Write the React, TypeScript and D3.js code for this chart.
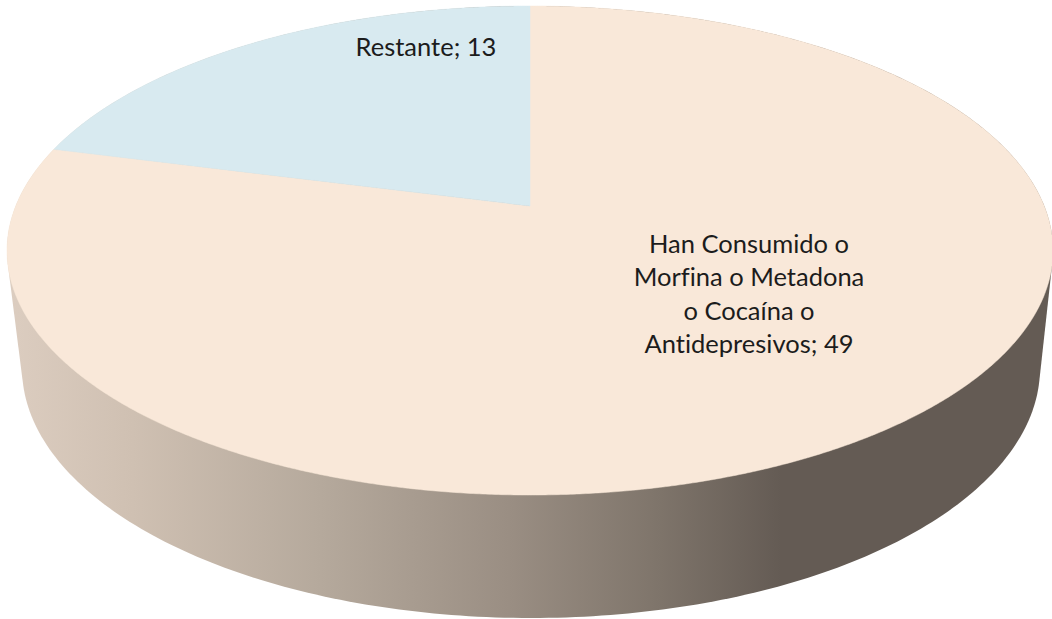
import React from 'react';
import * as d3 from 'd3';

const categories = ['Han Consumido o Morfina o Metadona o Cocaína o Antidepresivos', 'Restante'];
const values = [49, 13];
const sliceColors = ['#f9e8d9', '#d8eaf0'];
const mainLabelLines = ['Han Consumido o', 'Morfina o Metadona', 'o Cocaína o', 'Antidepresivos; 49'];
const smallLabel = 'Restante; 13';
const wallStops: [number, string][] = [
    [0, '#dccdc0'],
    [0.12, '#cfc0b2'],
    [0.3, '#b5a99c'],
    [0.48, '#9a8e83'],
    [0.62, '#7f756b'],
    [0.74, '#645b54'],
    [1, '#645b54'],
];

const width = 1052;
const height = 619;

// top face ellipse and the smaller base ellipse under it
const top = { cx: 530, cy: 250.5, rx: 523, ry: 244.5 };
const base = { cx: 531, cy: 368, rx: 509, ry: 250 };
// where the pie centre lands inside the ellipse, because of the perspective
const tilt = (206 - top.cy) / top.ry;

// maps a pie angle (clockwise from 12 o'clock) onto the tilted top face
function project(angle: number): [number, number] {
    const u = Math.sin(angle);
    const v = -Math.cos(angle);
    const d = 1 + tilt * v;
    return [
        top.cx + (top.rx * u * Math.sqrt(1 - tilt * tilt)) / d,
        top.cy + (top.ry * (v + tilt)) / d,
    ];
}

function ellipsePoints(e: typeof top): [number, number][] {
    return d3.range(0, 360).map((a) => {
        const t = (a * Math.PI) / 180;
        return [e.cx + e.rx * Math.cos(t), e.cy + e.ry * Math.sin(t)] as [number, number];
    });
}

const line = d3.line();

export default function App() {
    const slices = d3.pie<number>().sort(null)(values);
    const apex: [number, number] = [top.cx, top.cy + tilt * top.ry];

    const slicePaths = slices.map((s) => {
        const steps = Math.ceil((s.endAngle - s.startAngle) / 0.005);
        const arcScale = d3.scaleLinear().domain([0, steps]).range([s.startAngle, s.endAngle]);
        const rim = d3.range(steps + 1).map((i) => project(arcScale(i)));
        return line([apex, ...rim]) + 'Z';
    });

    const wall = d3.polygonHull([...ellipsePoints(top), ...ellipsePoints(base)]) as [number, number][];

    return (
        <svg
            width={width}
            height={height}
            style={{ position: 'absolute', left: 0, top: 0, display: 'block', fontVariantLigatures: 'none' }}
            fontFamily="Lato, sans-serif"
            fill="#1c1c1c"
        >
            <defs>
                <linearGradient id="wall" gradientUnits="userSpaceOnUse" x1={top.cx - top.rx} x2={top.cx + top.rx} y1={0} y2={0}>
                    {wallStops.map(([o, c]) => (
                        <stop key={o} offset={o} stopColor={c} />
                    ))}
                </linearGradient>
            </defs>
            <path d={line(wall) + 'Z'} fill="url(#wall)" />
            {slicePaths.map((d, i) => (
                <path key={categories[i]} d={d} fill={sliceColors[i]} stroke={sliceColors[i]} strokeWidth={0.5} />
            ))}
            <text x={426} y={56} fontSize={25.5} textAnchor="middle">{smallLabel}</text>
            <text fontSize={25.5} textAnchor="middle">
                {mainLabelLines.map((t, i) => (
                    <tspan key={t} x={749} y={253 + i * 33.3}>{t}</tspan>
                ))}
            </text>
        </svg>
    );
}
